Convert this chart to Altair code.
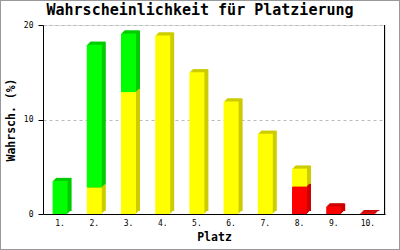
import altair as alt
import pandas as pd

places = ["1.", "2.", "3.", "4.", "5.", "6.", "7.", "8.", "9.", "10."]
red = [0, 0, 0, 0, 0, 0, 0, 2.9, 0.8, 0.1]
yellow = [0, 2.8, 12.9, 18.9, 15.0, 11.9, 8.5, 1.9, 0, 0]
green = [3.5, 15.1, 6.2, 0, 0, 0, 0, 0, 0, 0]
series_names = ["rot", "gelb", "grün"]
series_values = [red, yellow, green]
y_ticks = [0, 10, 20]

rows = []
for i, p in enumerate(places):
    base = 0.0
    for name, vals in zip(series_names, series_values):
        v = vals[i]
        if v > 0:
            rows.append({"Platz": p, "Serie": name, "y0": base, "y1": base + v})
            base += v
df = pd.DataFrame(rows)

W, H = 342, 189
MONO = "DejaVu Sans Mono"
front_colors = ["#ff0000", "#ffff00", "#00ff00"]
dark_colors = ["#cc0000", "#cccc00", "#00cc00"]

x_enc = alt.X(
    "Platz:N", sort=places, title="Platz",
    scale=alt.Scale(paddingInner=0, paddingOuter=0),
    axis=alt.Axis(labelAngle=0, ticks=False, labelPadding=5, titlePadding=4,
                  labelFont=MONO, labelFontSize=8, labelColor="black",
                  titleFont=MONO, titleFontSize=11.5, titleFontWeight="bold",
                  titleColor="black", domainColor="black", domainWidth=1, grid=False),
)
y_enc = alt.Y(
    "y0:Q", title="Wahrsch. (%)",
    scale=alt.Scale(domain=[0, 20], nice=False),
    axis=alt.Axis(values=y_ticks, tickSize=5, tickColor="black", labelPadding=5,
                  labelFont=MONO, labelFontSize=8, labelColor="black",
                  titleFont=MONO, titleFontSize=11.5, titleFontWeight="bold",
                  titleColor="black", titlePadding=7,
                  domainColor="black", domainWidth=1,
                  grid=True, gridColor="#bbbbbb", gridDash=[3, 3]),
)

base = alt.Chart(df)

dark_layers = []
for dx, dy in [(4, -3), (3, -3), (2, -2), (1, -1)]:
    dark_layers.append(
        base.mark_bar(size=15, xOffset=dx, x2Offset=dx, yOffset=dy, y2Offset=dy).encode(
            x=x_enc, y=y_enc, y2="y1:Q",
            color=alt.Color("Serie:N", scale=alt.Scale(domain=series_names, range=dark_colors), legend=None),
        )
    )

front = base.mark_bar(size=15).encode(
    x=x_enc, y=y_enc, y2="y1:Q",
    color=alt.Color("Serie:N", scale=alt.Scale(domain=series_names, range=front_colors), legend=None),
)

right_line = alt.Chart(df).mark_rule(color="black", strokeWidth=1).encode(
    x=alt.value(W - 0.5), y=alt.value(0), y2=alt.value(H)
)

frame = alt.Chart(df).mark_rect(fill=None, stroke="#999999", strokeWidth=1).encode(
    x=alt.value(-42.5), x2=alt.value(356.5), y=alt.value(-24.5), y2=alt.value(224.5)
)

chart = alt.layer(*dark_layers, front, right_line, frame).resolve_scale(
    color="independent"
).properties(
    width=W, height=H,
    title=alt.TitleParams(
        "Wahrscheinlichkeit für Platzierung", font=MONO, fontSize=15, fontWeight="bold",
        color="black", anchor="middle", dx=-14, offset=-30, baseline="alphabetic",
    ),
    autosize=alt.AutoSizeParams(type="none"),
    padding={"left": 43, "top": 25, "right": 15, "bottom": 36},
).configure_view(stroke=None).configure(background="white")

chart.save("out.html", embed_options={"renderer": "svg", "actions": False})
